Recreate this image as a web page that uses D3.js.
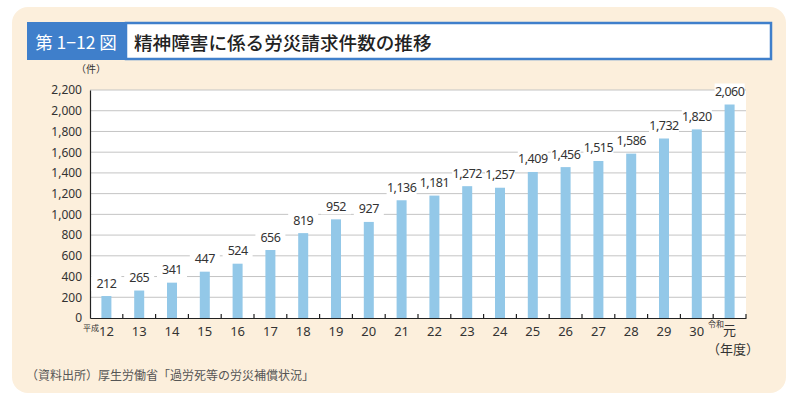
<!DOCTYPE html>
<html>
<head>
<meta charset="utf-8">
<script src="https://cdn.jsdelivr.net/npm/d3@7"></script>
<style>
  body { margin: 0; background: #fff; }
  text { font-family: "Noto Sans CJK JP", "Noto Sans", sans-serif; }
</style>
</head>
<body>
<div id="root"></div>
<script>
// データ
const years = ["12", "13", "14", "15", "16", "17", "18", "19", "20", "21", "22",
  "23", "24", "25", "26", "27", "28", "29", "30", "元"];
const counts = [212, 265, 341, 447, 524, 656, 819, 952, 927, 1136, 1181,
  1272, 1257, 1409, 1456, 1515, 1586, 1732, 1820, 2060];
const yTicks = [0, 200, 400, 600, 800, 1000, 1200, 1400, 1600, 1800, 2000, 2200];

const width = 800, height = 402;
const plotLeft = 90, plotRight = 746, plotTop = 90, plotBottom = 318;

const svg = d3.select("#root").append("svg")
  .attr("width", width)
  .attr("height", height);

// 背景パネル
svg.append("rect")
  .attr("x", 12).attr("y", 7)
  .attr("width", 774).attr("height", 386)
  .attr("rx", 16)
  .attr("fill", "#fcefdc");

// タイトル
svg.append("rect")
  .attr("x", 126).attr("y", 23)
  .attr("width", 645).attr("height", 36)
  .attr("fill", "#fff")
  .attr("stroke", "#3f7fcb")
  .attr("stroke-width", 2.5);
svg.append("rect")
  .attr("x", 27).attr("y", 22)
  .attr("width", 99).attr("height", 38)
  .attr("fill", "#3f7fcb");
svg.append("text")
  .attr("x", 76).attr("y", 41)
  .attr("text-anchor", "middle")
  .attr("dominant-baseline", "central")
  .attr("fill", "#fff")
  .attr("font-size", 17.5)
  .text("第 1−12 図");
svg.append("text")
  .attr("x", 134).attr("y", 41)
  .attr("dominant-baseline", "central")
  .attr("fill", "#222")
  .attr("font-size", 18.6)
  .attr("font-weight", 500)
  .text("精神障害に係る労災請求件数の推移");

// スケール
const x = d3.scaleBand()
  .domain(years)
  .range([plotLeft, plotRight]);

const y = d3.scaleLinear()
  .domain([0, 2200])
  .range([plotBottom, plotTop]);

// プロット領域
svg.append("rect")
  .attr("x", plotLeft).attr("y", plotTop)
  .attr("width", plotRight - plotLeft).attr("height", plotBottom - plotTop)
  .attr("fill", "#fff");

// グリッド
svg.append("g")
  .selectAll("line")
  .data(yTicks.filter(d => d > 0))
  .enter().append("line")
  .attr("x1", plotLeft).attr("x2", plotRight)
  .attr("y1", d => y(d)).attr("y2", d => y(d))
  .attr("stroke", "#c4c4c4")
  .attr("stroke-width", 1);

// Y軸
const yAxis = d3.axisLeft(y).tickValues(yTicks).tickSize(0).tickPadding(8)
  .tickFormat(d3.format(","));
const gy = svg.append("g")
  .attr("transform", `translate(${plotLeft},0)`)
  .call(yAxis);
gy.select(".domain").attr("stroke", "#222").attr("stroke-width", 1.2);
gy.selectAll("text").attr("font-size", 12).attr("fill", "#333")
  .style("font-family", "'Noto Sans', sans-serif");

// 棒
svg.selectAll(".bar")
  .data(counts)
  .enter().append("rect")
  .attr("class", "bar")
  .attr("x", (d, i) => x(years[i]) + x.bandwidth() / 2 - 5)
  .attr("y", d => y(d))
  .attr("width", 10)
  .attr("height", d => plotBottom - y(d))
  .attr("fill", "#93c8e8");

// 値ラベル
const labels = svg.append("g").selectAll("g")
  .data(counts)
  .enter().append("g")
  .attr("transform", (d, i) =>
    `translate(${x(years[i]) + x.bandwidth() / 2},${y(d) - 13})`);
labels.append("rect")
  .attr("x", -15).attr("y", -8)
  .attr("width", 30).attr("height", 16)
  .attr("fill", "#fff");
labels.append("text")
  .attr("text-anchor", "middle")
  .attr("dominant-baseline", "central")
  .attr("font-size", 12.5)
  .attr("fill", "#333")
  .attr("letter-spacing", -0.5)
  .style("font-family", "'Noto Sans', sans-serif")
  .text(d => d3.format(",")(d));

// X軸
const xAxis = d3.axisBottom(x).tickSize(0).tickPadding(9);
const gx = svg.append("g")
  .attr("transform", `translate(0,${plotBottom})`)
  .call(xAxis);
gx.select(".domain").attr("stroke", "#222").attr("stroke-width", 1.2);
gx.selectAll("text").attr("font-size", 13).attr("fill", "#333")
  .style("font-family", "'Noto Sans', sans-serif");
gx.selectAll(".tick text").filter(d => d === "元")
  .style("font-family", "'Noto Sans CJK JP', sans-serif")
  .attr("dy", "0.6em");

// 区切り目盛
svg.append("g")
  .selectAll("line")
  .data(years)
  .enter().append("line")
  .attr("x1", (d, i) => plotLeft + (i + 1) * x.step())
  .attr("x2", (d, i) => plotLeft + (i + 1) * x.step())
  .attr("y1", plotBottom).attr("y2", plotBottom - 4)
  .attr("stroke", "#222")
  .attr("stroke-width", 1.2);

// 注記
svg.append("text")
  .attr("x", 91).attr("y", 73)
  .attr("text-anchor", "middle")
  .attr("font-size", 10).attr("fill", "#333")
  .text("（件）");
svg.append("text")
  .attr("x", 91).attr("y", 331)
  .attr("text-anchor", "middle")
  .attr("font-size", 8).attr("fill", "#333")
  .text("平成");
svg.append("text")
  .attr("x", 716).attr("y", 327)
  .attr("text-anchor", "middle")
  .attr("font-size", 8).attr("fill", "#333")
  .text("令和");
svg.append("text")
  .attr("x", 733).attr("y", 354)
  .attr("text-anchor", "middle")
  .attr("font-size", 13).attr("fill", "#333")
  .text("（年度）");
svg.append("text")
  .attr("x", 26).attr("y", 380)
  .attr("font-size", 12).attr("fill", "#555")
  .text("（資料出所）厚生労働省「過労死等の労災補償状況」");
</script>
</body>
</html>
